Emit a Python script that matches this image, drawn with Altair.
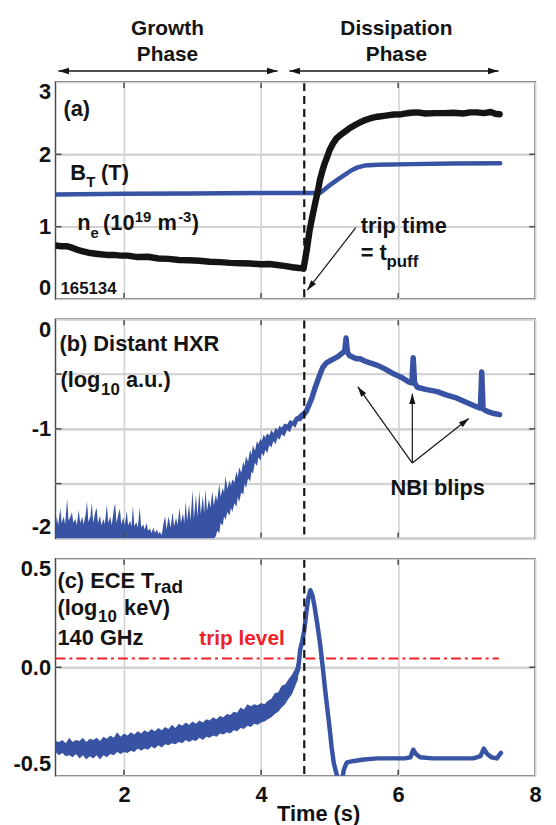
import altair as alt
import pandas as pd

FONT = "Liberation Sans"
BLUE = "#3953a4"
BLACK = "#141414"
RED = "#ee2228"
GRID = "#d2d2d2"
FRAME = "#4a4a4a"

TRIP_TIME = 4.63
TRIP_LEVEL = 0.04
TRIP_LEVEL_END = 7.47
X_DOMAIN = [1, 8]
X_TICKS = [2, 4, 6, 8]
A_TICKS = [0, 1, 2, 3]
B_TICKS = [-2, -1.5, -1, -0.5, 0]
C_TICKS = [-0.5, 0, 0.5]

# ---------------- panel (a) ----------------
ne = [(1.00, 0.74), (1.08, 0.73), (1.16, 0.73), (1.24, 0.71), (1.32, 0.68), (1.40, 0.66),
      (1.48, 0.64), (1.56, 0.63), (1.65, 0.62), (1.75, 0.61), (1.85, 0.61), (1.95, 0.60),
      (2.05, 0.60), (2.20, 0.58), (2.35, 0.585), (2.50, 0.56), (2.65, 0.555), (2.80, 0.54),
      (2.95, 0.535), (3.10, 0.53), (3.25, 0.515), (3.40, 0.51), (3.55, 0.50), (3.70, 0.495),
      (3.85, 0.49), (4.00, 0.48), (4.12, 0.485), (4.24, 0.47), (4.36, 0.455), (4.46, 0.44),
      (4.55, 0.43), (4.62, 0.42), (4.67, 0.70), (4.71, 0.96), (4.75, 1.15), (4.79, 1.33),
      (4.83, 1.50), (4.86, 1.65), (4.90, 1.79), (4.93, 1.88), (4.97, 1.98), (5.00, 2.06),
      (5.05, 2.15), (5.10, 2.22), (5.16, 2.27), (5.22, 2.31), (5.29, 2.36), (5.36, 2.40),
      (5.44, 2.44), (5.51, 2.47), (5.60, 2.50), (5.70, 2.52), (5.82, 2.535), (5.94, 2.55),
      (6.05, 2.555), (6.18, 2.575), (6.28, 2.58), (6.40, 2.565), (6.55, 2.57), (6.67, 2.57),
      (6.80, 2.575), (6.95, 2.565), (7.05, 2.58), (7.15, 2.58), (7.25, 2.57), (7.35, 2.585),
      (7.42, 2.56), (7.48, 2.555)]

bt = [(1.00, 1.445), (2.00, 1.455), (3.00, 1.46), (4.00, 1.465), (4.86, 1.466), (4.98, 1.557),
      (5.10, 1.64), (5.22, 1.717), (5.32, 1.78), (5.41, 1.82), (5.51, 1.845), (5.70, 1.855),
      (6.20, 1.865), (6.80, 1.872), (7.49, 1.877)]

# ---------------- panel (b) ----------------
# noisy part: (t, lower envelope, upper envelope); the floor sits on the axis minimum
hxr_band = [(1.00, -2.0, -1.90), (1.02, -2.0, -1.80), (1.04, -2.0, -1.88), (1.07, -2.0, -1.72),
            (1.09, -2.0, -1.86), (1.12, -2.0, -1.80), (1.14, -2.0, -1.87), (1.17, -2.0, -1.64),
            (1.19, -2.0, -1.84), (1.22, -2.0, -1.80), (1.24, -2.0, -1.76), (1.26, -2.0, -1.86),
            (1.29, -2.0, -1.82), (1.31, -2.0, -1.88), (1.34, -2.0, -1.74), (1.36, -2.0, -1.86),
            (1.39, -2.0, -1.80), (1.41, -2.0, -1.87), (1.44, -2.0, -1.78), (1.46, -2.0, -1.66),
            (1.48, -2.0, -1.85), (1.51, -2.0, -1.80), (1.53, -2.0, -1.67), (1.55, -2.0, -1.86),
            (1.58, -2.0, -1.76), (1.60, -2.0, -1.72), (1.62, -2.0, -1.86), (1.65, -2.0, -1.79),
            (1.67, -2.0, -1.88), (1.70, -2.0, -1.82), (1.72, -2.0, -1.87), (1.75, -2.0, -1.69),
            (1.77, -2.0, -1.86), (1.80, -2.0, -1.80), (1.82, -2.0, -1.88), (1.85, -2.0, -1.74),
            (1.87, -2.0, -1.68), (1.89, -2.0, -1.86), (1.92, -2.0, -1.77), (1.94, -2.0, -1.73),
            (1.96, -2.0, -1.87), (1.99, -2.0, -1.81), (2.01, -2.0, -1.88), (2.04, -2.0, -1.75),
            (2.06, -2.0, -1.88), (2.09, -2.0, -1.84), (2.11, -2.0, -1.89), (2.13, -2.0, -1.70),
            (2.15, -2.0, -1.89), (2.18, -2.0, -1.85), (2.20, -2.0, -1.90), (2.23, -2.0, -1.72),
            (2.25, -2.0, -1.90), (2.28, -2.0, -1.87), (2.30, -2.0, -1.92), (2.33, -2.0, -1.86),
            (2.35, -2.0, -1.93), (2.38, -2.0, -1.91), (2.40, -2.0, -1.95), (2.43, -2.0, -1.90),
            (2.45, -2.0, -1.95), (2.48, -2.0, -1.92), (2.50, -2.0, -1.96), (2.52, -2.0, -1.94),
            (2.55, -2.0, -1.97), (2.58, -2.0, -1.85), (2.60, -2.0, -1.80), (2.62, -2.0, -1.92),
            (2.65, -2.0, -1.80), (2.68, -2.0, -1.90), (2.71, -2.0, -1.76), (2.73, -2.0, -1.89),
            (2.76, -2.0, -1.81), (2.78, -2.0, -1.88), (2.81, -2.0, -1.72), (2.83, -2.0, -1.86),
            (2.86, -2.0, -1.77), (2.88, -2.0, -1.86), (2.90, -2.0, -1.66), (2.92, -2.0, -1.84),
            (2.95, -2.0, -1.69), (2.97, -2.0, -1.84), (3.00, -2.0, -1.56), (3.02, -2.0, -1.82),
            (3.05, -2.0, -1.60), (3.07, -2.0, -1.80), (3.10, -2.0, -1.57), (3.12, -2.0, -1.78),
            (3.15, -2.0, -1.61), (3.17, -2.0, -1.77), (3.19, -2.0, -1.55), (3.21, -2.0, -1.75),
            (3.24, -2.0, -1.64), (3.26, -2.0, -1.72), (3.29, -2.0, -1.57), (3.31, -2.0, -1.70),
            (3.34, -1.98, -1.60), (3.36, -1.93, -1.66), (3.39, -1.95, -1.50), (3.41, -1.86, -1.62),
            (3.44, -1.88, -1.54), (3.46, -1.80, -1.58), (3.48, -1.83, -1.43), (3.51, -1.76, -1.55),
            (3.54, -1.79, -1.47), (3.56, -1.72, -1.52), (3.58, -1.76, -1.46), (3.61, -1.68, -1.49),
            (3.64, -1.71, -1.39), (3.66, -1.62, -1.44), (3.68, -1.67, -1.35), (3.71, -1.58, -1.40),
            (3.74, -1.60, -1.30), (3.76, -1.50, -1.34), (3.78, -1.54, -1.25), (3.81, -1.45, -1.30),
            (3.84, -1.48, -1.19), (3.86, -1.39, -1.24), (3.88, -1.41, -1.15), (3.91, -1.31, -1.20),
            (3.94, -1.34, -1.11), (3.96, -1.26, -1.14), (3.99, -1.29, -1.09), (4.01, -1.22, -1.11),
            (4.04, -1.25, -1.05), (4.06, -1.19, -1.08), (4.09, -1.22, -1.04), (4.12, -1.15, -1.06),
            (4.15, -1.17, -1.01), (4.18, -1.11, -1.04), (4.21, -1.14, -0.99), (4.24, -1.08, -1.01),
            (4.27, -1.10, -0.97), (4.30, -1.05, -0.99), (4.34, -1.07, -0.95), (4.38, -1.01, -0.96),
            (4.42, -1.03, -0.92), (4.46, -0.97, -0.93), (4.50, -0.99, -0.89), (4.54, -0.93, -0.88),
            (4.58, -0.93, -0.85), (4.62, -0.90, -0.84)]
hxr = [(4.58, -0.885), (4.62, -0.87), (4.66, -0.84), (4.70, -0.78), (4.74, -0.72), (4.78, -0.64),
       (4.82, -0.57), (4.86, -0.50), (4.90, -0.44), (4.95, -0.40), (5.00, -0.38), (5.06, -0.36),
       (5.12, -0.34), (5.18, -0.31), (5.22, -0.29), (5.24, -0.17), (5.26, -0.30), (5.29, -0.33),
       (5.35, -0.35), (5.40, -0.36), (5.45, -0.36), (5.51, -0.38), (5.60, -0.40), (5.70, -0.42),
       (5.80, -0.45), (5.94, -0.50), (6.05, -0.53), (6.15, -0.57), (6.20, -0.58), (6.22, -0.35),
       (6.24, -0.58), (6.28, -0.62), (6.40, -0.64), (6.57, -0.66), (6.70, -0.69), (6.86, -0.72),
       (7.00, -0.76), (7.15, -0.80), (7.20, -0.81), (7.22, -0.48), (7.24, -0.82), (7.30, -0.84),
       (7.40, -0.86), (7.48, -0.87)]

# ---------------- panel (c) ----------------
ece_band = [(1.00, -0.39, -0.34), (1.05, -0.405, -0.345), (1.10, -0.395, -0.335), (1.15, -0.41, -0.35),
            (1.20, -0.405, -0.325), (1.25, -0.415, -0.345), (1.30, -0.40, -0.335), (1.35, -0.42, -0.34),
            (1.40, -0.405, -0.325), (1.45, -0.425, -0.345), (1.50, -0.41, -0.33), (1.55, -0.42, -0.335),
            (1.60, -0.405, -0.325), (1.65, -0.425, -0.34), (1.70, -0.405, -0.32), (1.75, -0.415, -0.33),
            (1.80, -0.40, -0.315), (1.85, -0.405, -0.325), (1.90, -0.39, -0.30), (1.95, -0.40, -0.32),
            (2.00, -0.39, -0.305), (2.05, -0.395, -0.315), (2.10, -0.385, -0.30), (2.15, -0.39, -0.31),
            (2.20, -0.375, -0.295), (2.25, -0.385, -0.305), (2.30, -0.375, -0.29), (2.35, -0.38, -0.30),
            (2.40, -0.365, -0.285), (2.45, -0.375, -0.295), (2.50, -0.36, -0.28), (2.55, -0.37, -0.29),
            (2.60, -0.355, -0.275), (2.65, -0.36, -0.285), (2.70, -0.35, -0.265), (2.75, -0.355, -0.28),
            (2.80, -0.345, -0.26), (2.85, -0.35, -0.27), (2.90, -0.335, -0.255), (2.95, -0.345, -0.265),
            (3.00, -0.335, -0.25), (3.05, -0.34, -0.26), (3.10, -0.325, -0.245), (3.15, -0.335, -0.255),
            (3.20, -0.32, -0.24), (3.25, -0.325, -0.245), (3.30, -0.315, -0.23), (3.35, -0.32, -0.24),
            (3.40, -0.305, -0.225), (3.45, -0.31, -0.23), (3.50, -0.30, -0.215), (3.55, -0.305, -0.22),
            (3.60, -0.29, -0.205), (3.65, -0.295, -0.21), (3.70, -0.28, -0.185), (3.75, -0.285, -0.195),
            (3.80, -0.27, -0.17), (3.85, -0.275, -0.18), (3.90, -0.26, -0.17), (3.95, -0.265, -0.175),
            (4.00, -0.255, -0.165), (4.05, -0.25, -0.17), (4.10, -0.24, -0.155), (4.15, -0.23, -0.145),
            (4.20, -0.215, -0.12), (4.25, -0.205, -0.115), (4.30, -0.185, -0.085), (4.35, -0.17, -0.08),
            (4.40, -0.145, -0.055), (4.45, -0.125, -0.035), (4.50, -0.085, -0.005), (4.54, -0.055, 0.035)]
ece = [(4.50, -0.045), (4.54, -0.01), (4.57, 0.08), (4.60, 0.12), (4.63, 0.17), (4.66, 0.25),
       (4.69, 0.32), (4.72, 0.355), (4.75, 0.33), (4.78, 0.28), (4.82, 0.20), (4.86, 0.11),
       (4.90, 0.00), (4.93, -0.09), (4.97, -0.20), (5.00, -0.28), (5.03, -0.37), (5.06, -0.44),
       (5.10, -0.49), (5.14, -0.53), (5.18, -0.52), (5.21, -0.47), (5.25, -0.44), (5.30, -0.435),
       (5.40, -0.43), (5.50, -0.425), (5.70, -0.42), (5.90, -0.42), (6.10, -0.42), (6.18, -0.415),
       (6.22, -0.38), (6.26, -0.40), (6.32, -0.415), (6.50, -0.42), (6.70, -0.42), (6.90, -0.42),
       (7.10, -0.42), (7.20, -0.41), (7.25, -0.375), (7.30, -0.40), (7.36, -0.415), (7.44, -0.42),
       (7.50, -0.395)]

# ---------------- annotations: (t, v, text, font size, colour) ----------------
a_text = [(1.116, 2.534, "(a)", 22, BLACK),
          (1.217, 1.644, "B", 22, BLACK), (1.447, 1.548, "T", 15, BLACK),
          (1.665, 1.644, "(T)", 22, BLACK),
          (1.318, 0.959, "n", 22, BLACK), (1.510, 0.849, "e", 15, BLACK),
          (1.694, 0.959, "(10", 22, BLACK), (2.157, 1.068, "19", 15, BLACK),
          (2.490, 0.959, "m", 22, BLACK), (2.790, 1.068, "-3", 15, BLACK),
          (2.990, 0.959, ")", 22, BLACK),
          (1.072, 0.068, "165134", 17, BLACK),
          (5.455, 0.918, "trip time", 22, BLACK),
          (5.455, 0.534, "= t", 22, BLACK), (5.831, 0.438, "puff", 17, BLACK)]
a_arrows = [(5.382, 0.986, 4.674, 0.123)]
a_heads = [(4.674, 0.123, 218)]

header_text = [(2.634, 3.644, "Growth"), (2.634, 3.288, "Phase"),
               (5.975, 3.644, "Dissipation"), (5.975, 3.288, "Phase")]
header_arrows = [(1.043, 3.151, 4.240, 3.151), (4.413, 3.151, 7.465, 3.151)]
header_heads = [(1.043, 3.151, 270), (4.240, 3.151, 90), (4.413, 3.151, 270), (7.465, 3.151, 90)]

b_text = [(1.058, -0.290, "(b) Distant HXR", 22, BLACK),
          (1.072, -0.615, "(log", 22, BLACK), (1.665, -0.688, "10", 17, BLACK),
          (2.027, -0.615, "a.u.)", 22, BLACK),
          (5.888, -1.602, "NBI blips", 22, BLACK)]
b_arrows = [(6.207, -1.312, 5.411, -0.615), (6.207, -1.312, 6.207, -0.679),
            (6.207, -1.312, 7.031, -0.905)]
b_heads = [(5.411, -0.615, 324.5), (6.207, -0.679, 0), (7.031, -0.905, 51.7)]

c_text = [(1.029, 0.363, "(c) ECE T", 22, BLACK), (2.432, 0.340, "rad", 19, BLACK),
          (1.029, 0.240, "(log", 22, BLACK), (1.622, 0.208, "10", 17, BLACK),
          (2.000, 0.240, "keV)", 22, BLACK),
          (1.029, 0.103, "140 GHz", 22, BLACK),
          (3.097, 0.103, "trip level", 21, RED)]

W = 484
HA, HB, HC = 219, 221, 219
TICK = 6
ARROW = "M0,0L0.55,1.8L-0.55,1.8Z"
# page margin kept above/left of panel (a)'s plot area
MARGIN_TOP, MARGIN_LEFT = 78, 55


def pts(series):
    return pd.DataFrame(series, columns=["t", "v"])


def inner(vals):
    return vals[1:-1]


def xenc(labels=False, title=None):
    ax = dict(values=X_TICKS, grid=True, ticks=False, domain=False, labels=labels,
              labelFlush=False, labelPadding=9)
    if title:
        ax.update(title=title, titleX=265, titleY=45, titleAlign="center",
                  titleBaseline="alphabetic")
    else:
        ax.update(title=None)
    return alt.X("t:Q", scale=alt.Scale(domain=X_DOMAIN, nice=False, zero=False),
                 axis=alt.Axis(**ax))


def yenc(domain, values, expr, fmt=None):
    ax = dict(values=values, grid=True, ticks=False, domain=False, title=None,
              labelFlush=True, labelPadding=5, minExtent=45,
              maxExtent=45, labelExpr=expr)
    if fmt:
        ax["format"] = fmt
    return alt.Y("v:Q", scale=alt.Scale(domain=domain, nice=False, zero=False),
                 axis=alt.Axis(**ax))


def grid_lines(ye, yvals):
    ydf = pd.DataFrame({"v": inner(yvals)})
    return alt.Chart(ydf).mark_rule(color=GRID, strokeWidth=1.6).encode(
        y=ye, x=alt.value(0), x2=alt.value(W))


def frame_ticks(xe, ye, yvals, height):
    xdf = pd.DataFrame({"t": X_TICKS[:-1]})
    ydf = pd.DataFrame({"v": inner(yvals)})
    rule = dict(color=FRAME, strokeWidth=1.5)
    return [
        alt.Chart(xdf).mark_rule(**rule).encode(x=xe, y=alt.value(0.8), y2=alt.value(TICK)),
        alt.Chart(xdf).mark_rule(**rule).encode(x=xe, y=alt.value(height - TICK),
                                                y2=alt.value(height - 0.8)),
        alt.Chart(ydf).mark_rule(**rule).encode(y=ye, x=alt.value(0), x2=alt.value(TICK)),
        alt.Chart(ydf).mark_rule(**rule).encode(y=ye, x=alt.value(W - TICK), x2=alt.value(W)),
    ]


def panel(xe, ye, yvals, height, traces, texts, arrows, heads, bands=(), extra_front=(),
          extra_back=()):
    layers = [grid_lines(ye, yvals)] + list(extra_back)
    for band, color in bands:
        bdf = pd.DataFrame(band, columns=["t", "v", "v2"])
        layers.append(alt.Chart(bdf).mark_area(color=color, opacity=1, clip=True)
                      .encode(x=xe, y=ye, y2="v2:Q"))
    for series, color, sw in traces:
        layers.append(alt.Chart(pts(series)).mark_line(color=color, strokeWidth=sw,
                                                        strokeJoin="round", strokeCap="round",
                                                        clip=True)
                      .encode(x=xe, y=ye))
    layers.append(alt.Chart(pd.DataFrame({"t": [TRIP_TIME]})).mark_rule(
        color=BLACK, strokeWidth=2.2, strokeDash=[8, 5]).encode(
        x=xe, y=alt.value(1.2), y2=alt.value(height - 1.2)))
    layers.extend(frame_ticks(xe, ye, yvals, height))
    if texts:
        tdf = pd.DataFrame(texts, columns=["t", "v", "text", "size", "color"])
        layers.append(alt.Chart(tdf).mark_text(align="left", baseline="alphabetic", font=FONT,
                                               fontWeight="bold")
                      .encode(x=xe, y=ye, text="text:N",
                              size=alt.Size("size:Q", scale=None),
                              color=alt.Color("color:N", scale=None)))
    if arrows:
        adf = pd.DataFrame(arrows, columns=["t", "v", "t2", "v2"])
        layers.append(alt.Chart(adf).mark_rule(color=BLACK, strokeWidth=1.2)
                      .encode(x=xe, y=ye, x2="t2:Q", y2="v2:Q"))
        hdf = pd.DataFrame(heads, columns=["t", "v", "ang"])
        layers.append(alt.Chart(hdf).mark_point(shape=ARROW, filled=True, color=BLACK,
                                                opacity=1, size=130, strokeWidth=0)
                      .encode(x=xe, y=ye, angle=alt.Angle("ang:Q", scale=None)))
    layers.extend(extra_front)
    return alt.layer(*layers).properties(width=W, height=height)


MINUS = "replace(datum.label, '\u2212', '-')"

# ---- panel a ----
xa = xenc()
ya = yenc([0, 3], A_TICKS, MINUS)
hdr_txt = alt.Chart(pd.DataFrame(header_text, columns=["t", "v", "text"])).mark_text(
    align="center", baseline="alphabetic", font=FONT, fontWeight="bold", fontSize=21,
    color=BLACK).encode(x=xa, y=ya, text="text:N")
hdr_lines = alt.Chart(pd.DataFrame(header_arrows, columns=["t", "v", "t2", "v2"])).mark_rule(
    color=BLACK, strokeWidth=1.5).encode(x=xa, y=ya, x2="t2:Q", y2="v2:Q")
hdr_heads = alt.Chart(pd.DataFrame(header_heads, columns=["t", "v", "ang"])).mark_point(
    shape=ARROW, filled=True, color=BLACK, opacity=1, size=140, strokeWidth=0).encode(
    x=xa, y=ya, angle=alt.Angle("ang:Q", scale=None))
# invisible corner marker fixing the page margin above / left of the plot area
corner = alt.Chart(pd.DataFrame({"k": [0]})).mark_rule(opacity=0, strokeWidth=0.01).encode(
    x=alt.value(-MARGIN_LEFT), x2=alt.value(0), y=alt.value(-MARGIN_TOP))

pa = panel(xa, ya, A_TICKS, HA, [(bt, BLUE, 4.5), (ne, BLACK, 6.5)], a_text, a_arrows, a_heads,
           extra_front=[hdr_txt, hdr_lines, hdr_heads, corner])

# ---- panel b ----
xb = xenc()
yb = yenc([-2, 0], B_TICKS,
          "datum.value % 1 == 0 ? replace(format(datum.value, '.0f'), '\u2212', '-') : ''",
          ".1f")
pb = panel(xb, yb, B_TICKS, HB, [(hxr, BLUE, 5.5)], b_text, b_arrows, b_heads,
           bands=[(hxr_band, BLUE)])

# ---- panel c ----
xc = xenc(labels=True, title="Time (s)")
yc = yenc([-0.5, 0.5], C_TICKS, MINUS, ".1f")
trip = alt.Chart(pd.DataFrame({"t": [X_DOMAIN[0]], "t2": [TRIP_LEVEL_END],
                               "v": [TRIP_LEVEL]})).mark_rule(
    color=RED, strokeWidth=2, strokeDash=[10, 4, 3, 4]).encode(x=xc, x2="t2:Q", y=yc)
pc = panel(xc, yc, C_TICKS, HC, [(ece, BLUE, 4.5)], c_text, None, None,
           bands=[(ece_band, BLUE)], extra_back=[trip])

chart = alt.vconcat(pa, pb, pc, spacing=17.5).properties(
    padding={"left": 0, "right": 14, "top": 0, "bottom": 0},
    background="white",
).configure_view(stroke=FRAME, strokeWidth=1.5).configure_axis(
    labelFont=FONT, labelFontWeight="bold", labelFontSize=22, labelColor="#111111",
    titleFont=FONT, titleFontWeight="bold", titleFontSize=22, titleColor="#111111",
    gridColor=GRID, gridWidth=1.6, gridOpacity=1)

chart.save("out.html", embed_options={"renderer": "svg", "actions": False})
